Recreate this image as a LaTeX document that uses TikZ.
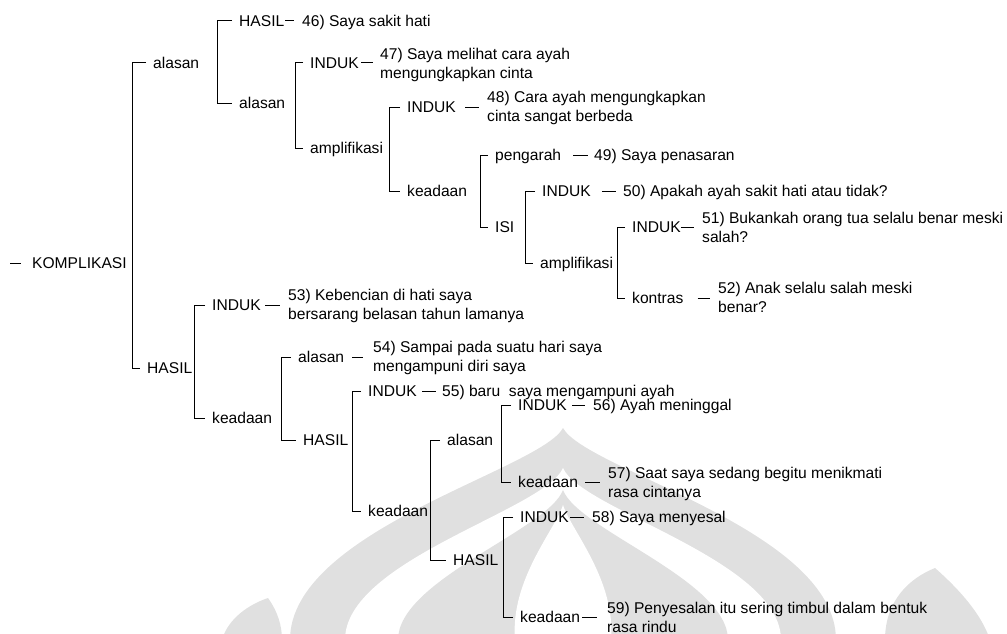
\documentclass[tikz,border=0pt]{standalone}
\usepackage{fontspec}
\setmainfont{Liberation Sans}
\usetikzlibrary{calc}
\newcommand{\fsz}{\fontsize{15.6}{19}\selectfont}
\newcommand{\twoline}[2]{\strut #1\\#2\strut}
\begin{document}
\begin{tikzpicture}[x=1pt,y=-1pt,
  lbl/.style={anchor=west,inner sep=0pt,font=\fsz,text height=11.2pt,text depth=0pt},
  sent/.style={anchor=west,inner sep=0pt,font=\fsz,align=left,yshift=-1.8pt},
  ln/.style={line width=1pt,black},
  wm/.style={fill=black!12,draw=none}]
\useasboundingbox (0,0) rectangle (1007,634);
% watermark
\begin{scope}
\clip (0,0) rectangle (1007,634);
\fill[wm] (290,640) .. controls (290,530) and (540,470) .. (563,428) .. controls (586,470) and (836,530) .. (836,640) -- cycle;
\fill[white] (345,640) .. controls (345,560) and (545,510) .. (563,468) .. controls (581,510) and (781,560) .. (781,640) -- cycle;
\fill[wm] (398,640) .. controls (398,580) and (548,530) .. (563,490) .. controls (578,530) and (728,580) .. (728,640) -- cycle;
\fill[white] (515,640) .. controls (510,580) and (555,530) .. (563,505) .. controls (571,530) and (616,580) .. (611,640) -- cycle;
\fill[wm] (885,640) .. controls (885,600) and (910,578) .. (935,568) .. controls (960,590) and (982,615) .. (990,640) -- cycle;
\fill[wm] (222,640) .. controls (228,618) and (250,604) .. (268,598) .. controls (278,612) and (282,626) .. (282,640) -- cycle;
\end{scope}
% labels
\node[lbl] (komp) at (32,263) {KOMPLIKASI};
\node[lbl] (A) at (153,63) {alasan};
\node[lbl] (B) at (239,21) {HASIL};
\node[lbl] (C) at (239,103) {alasan};
\node[lbl] (D) at (310,63) {INDUK};
\node[lbl] (E) at (310,148) {amplifikasi};
\node[lbl] (F) at (407,107) {INDUK};
\node[lbl] (G) at (407,191) {keadaan};
\node[lbl] (H) at (495,155) {pengarah};
\node[lbl] (I) at (495,227) {ISI};
\node[lbl] (J) at (542,191) {INDUK};
\node[lbl] (K) at (540,263) {amplifikasi};
\node[lbl] (L) at (632,227) {INDUK};
\node[lbl] (M) at (632,298) {kontras};
\node[lbl] (N) at (147,368) {HASIL};
\node[lbl] (O) at (212,305) {INDUK};
\node[lbl] (P) at (212,418) {keadaan};
\node[lbl] (Q) at (298,357) {alasan};
\node[lbl] (R) at (303,440) {HASIL};
\node[lbl] (S) at (368,391) {INDUK};
\node[lbl] (T) at (368,511) {keadaan};
\node[lbl] (U) at (447,440) {alasan};
\node[lbl] (V) at (518,405) {INDUK};
\node[lbl] (W) at (518,482) {keadaan};
\node[lbl] (X) at (453,560) {HASIL};
\node[lbl] (Y) at (520,517) {INDUK};
\node[lbl] (Z) at (520,617) {keadaan};
% sentences
\node[lbl] (tB) at (302,21) {46) Saya sakit hati};
\node[sent] (tD) at (380,63) {\twoline{47) Saya melihat cara ayah}{mengungkapkan cinta}};
\node[sent] (tF) at (487,106.5) {\twoline{48) Cara ayah mengungkapkan}{cinta sangat berbeda}};
\node[lbl] (tH) at (594,155) {49) Saya penasaran};
\node[lbl] (tJ) at (623,191) {50) Apakah ayah sakit hati atau tidak?};
\node[sent] (tL) at (702,227) {\twoline{51) Bukankah orang tua selalu benar meski}{salah?}};
\node[sent] (tM) at (718,297.5) {\twoline{52) Anak selalu salah meski}{benar?}};
\node[sent] (tO) at (288,304) {\twoline{53) Kebencian di hati saya}{bersarang belasan tahun lamanya}};
\node[sent] (tQ) at (373,356) {\twoline{54) Sampai pada suatu hari saya}{mengampuni diri saya}};
\node[lbl] (tS) at (442,391) {55) baru\ \ saya mengampuni ayah};
\node[lbl] (tV) at (593,405) {56) Ayah meninggal};
\node[sent] (tW) at (608,482) {\twoline{57) Saat saya sedang begitu menikmati}{rasa cintanya}};
\node[lbl] (tY) at (592,517) {58) Saya menyesal};
\node[sent] (tZ) at (607,617) {\twoline{59) Penyesalan itu sering timbul dalam bentuk}{rasa rindu}};
% spines
\coordinate (sA) at (132,0);
\coordinate (sAA) at (217,0);
\coordinate (sC) at (295,0);
\coordinate (sE) at (389,0);
\coordinate (sG) at (480,0);
\coordinate (sI) at (525,0);
\coordinate (sK) at (617,0);
\coordinate (sN) at (194,0);
\coordinate (sP) at (281,0);
\coordinate (sR) at (352,0);
\coordinate (sT) at (430,0);
\coordinate (sU) at (501,0);
\coordinate (sX) at (503,0);
\foreach \s/\a/\b in {sA/A/N, sAA/B/C, sC/D/E, sE/F/G, sG/H/I, sI/J/K, sK/L/M,
  sN/O/P, sP/Q/R, sR/S/T, sT/U/X, sU/V/W, sX/Y/Z}
  \draw[ln] ([xshift=-7pt]\a.west) -- (\s |- \a.west) -- (\s |- \b.west) -- ([xshift=-7pt]\b.west);
% root dash
\coordinate (rootin) at (10,263);
\draw[ln] (rootin) -- ([xshift=-11pt]komp.west);
% dashes label -- sentence
\foreach \l/\g/\h in {B/1/8, D/2.5/7, F/9.5/8, H/12/6, J/11/7, L/0/8, M/14/8,
  O/4.5/8, Q/8/10, S/5.5/6, V/5.5/8, W/7/8, Y/1.5/8, Z/2/10}
  \draw[ln] ([xshift=\g pt]\l.east) -- ($(t\l.west |- \l.east)+(-\h,0)$);
\end{tikzpicture}
\end{document}
